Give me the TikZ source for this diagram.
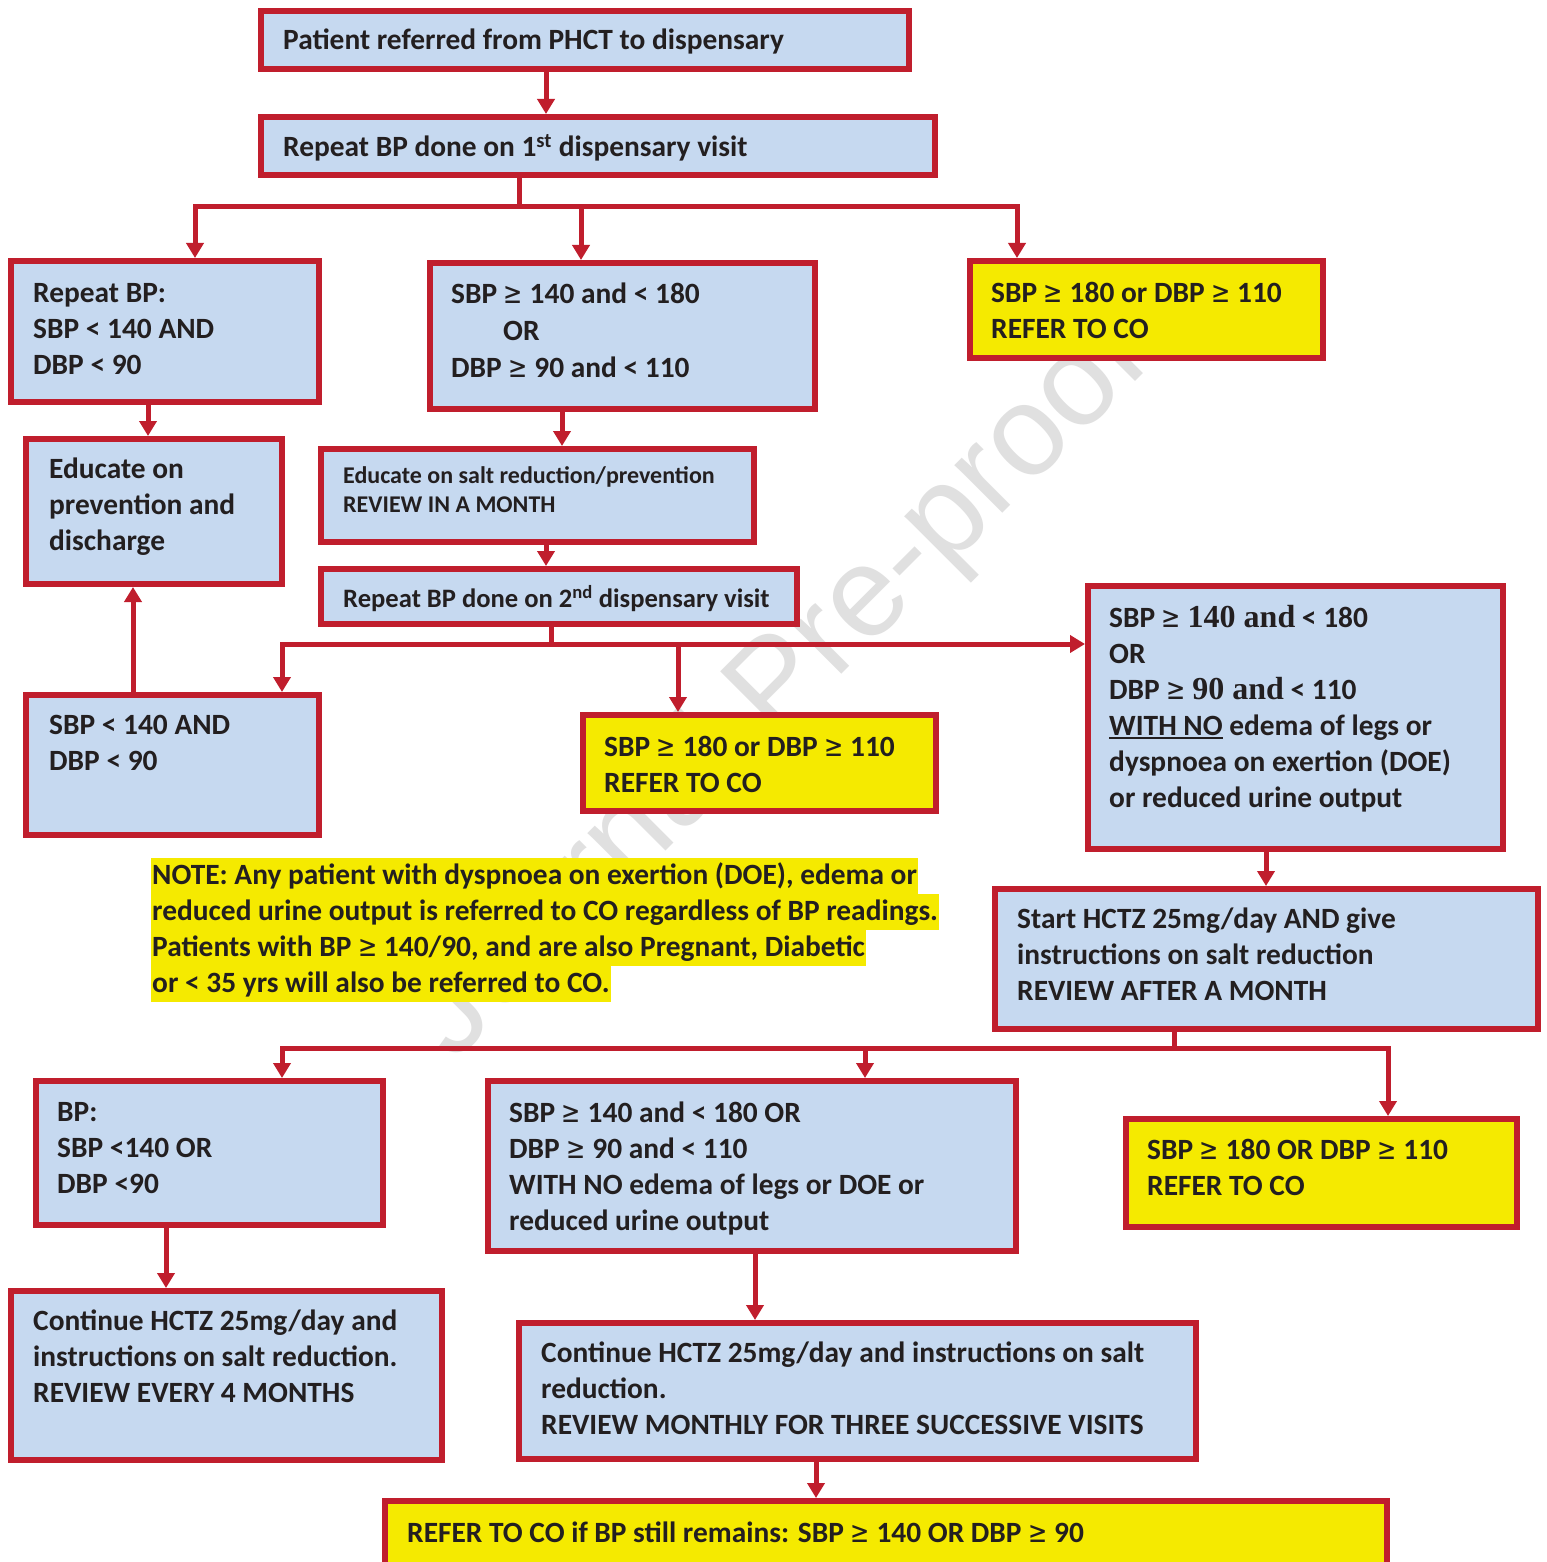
\documentclass[tikz,border=0pt]{standalone}
\usepackage{fontspec}
\usepackage{graphicx}
\setmainfont{Carlito}
\newfontfamily\serifbold{Liberation Serif}
\newfontfamily\wmfont{Liberation Sans}
\newfontfamily\symf{DejaVu Sans}
\usetikzlibrary{arrows.meta}
\definecolor{bred}{RGB}{192,30,45}
\definecolor{bblue}{RGB}{198,217,240}
\definecolor{byellow}{RGB}{245,234,0}
\definecolor{btext}{RGB}{35,31,32}
\newcommand\myul[1]{\setbox0=\hbox{#1}\rlap{\rule[-4pt]{\wd0}{2.4pt}}\box0\relax}
\newcommand\gq{\scalebox{0.78}[1]{\symf\mdseries ≥}}
\begin{document}
\begin{tikzpicture}[x=1pt,y=-1pt,
  box/.style={draw=bred, line width=6pt, fill=bblue, rectangle, inner sep=0pt, anchor=north west},
  ybox/.style={box, fill=byellow},
  txt/.style={anchor=north west, inner sep=0pt, align=left, text=btext, font=\fontsize{29.4}{36}\selectfont\bfseries},
  hl/.style={anchor=north west, fill=byellow, inner xsep=1pt, inner ysep=0pt, text height=26pt, text depth=10pt, text=btext, font=\fontsize{29.4}{36}\selectfont\bfseries},
  conn/.style={draw=bred, line width=5pt},
  arr/.style={conn, -{Triangle[width=17pt,length=15pt]}}
]
\useasboundingbox (0,0) rectangle (1546,1562);
\clip (0,0) rectangle (1546,1562);
\fill[white] (0,0) rectangle (1546,1562);

% watermark
\node[rotate=45, text=black!12, font=\wmfont\fontsize{128}{130}\selectfont] (wm) at (780,690) {Journal Pre-proof};

% boxes
\node[box, minimum width=648, minimum height=58] (b1) at (258,8) {};
\node[box, minimum width=674, minimum height=58] (b2) at (258,114) {};
\node[box, minimum width=308, minimum height=141] (b3) at (8,258) {};
\node[box, minimum width=385, minimum height=146] (b4) at (427,260) {};
\node[ybox, minimum width=353, minimum height=97] (b5) at (967,258) {};
\node[box, minimum width=256, minimum height=145] (b6) at (23,436) {};
\node[box, minimum width=433, minimum height=93] (b7) at (318,446) {};
\node[box, minimum width=476, minimum height=55] (b8) at (318,566) {};
\node[box, minimum width=293, minimum height=140] (b9) at (23,692) {};
\node[ybox, minimum width=353, minimum height=96] (b10) at (580,712) {};
\node[box, minimum width=415, minimum height=263] (b11) at (1085,583) {};
\node[box, minimum width=543, minimum height=140] (b12) at (992,886) {};
\node[box, minimum width=347, minimum height=144] (b13) at (33,1078) {};
\node[box, minimum width=528, minimum height=170] (b14) at (485,1078) {};
\node[ybox, minimum width=391, minimum height=108] (b15) at (1123,1116) {};
\node[box, minimum width=431, minimum height=169] (b16) at (8,1288) {};
\node[box, minimum width=677, minimum height=136] (b17) at (516,1320) {};
\node[ybox, minimum width=1002, minimum height=80] (b18) at (382,1498) {};

% junctions and columns
\coordinate (j1) at (519,207);
\coordinate (j2) at (551,644);
\coordinate (j3) at (1174,1048);
\foreach \xx in {133,148,166,195,282,546,562,581,678,755,816,865,1017,1266,1388}
  \coordinate (x\xx) at (\xx,0);

% connectors
\draw[arr] (b1.south -| x546) -- (b2.north -| x546);
\draw[conn] (b2.south -| j1) -- (j1);
\draw[arr] (j1) -| (b3.north -| x195);
\draw[arr] (j1) -| (b4.north -| x581);
\draw[arr] (j1) -| (b5.north -| x1017);
\draw[arr] (b3.south -| x148) -- (b6.north -| x148);
\draw[arr] (b4.south -| x562) -- (b7.north -| x562);
\draw[arr] (b7.south -| x546) -- (b8.north -| x546);
\draw[conn] (b8.south -| j2) -- (j2);
\draw[arr] (j2) -| (b9.north -| x282);
\draw[arr] (j2) -| (b10.north -| x678);
\draw[arr] (j2) -- (b11.west |- j2);
\draw[arr] (b9.north -| x133) -- (b6.south -| x133);
\draw[arr] (b11.south -| x1266) -- (b12.north -| x1266);
\draw[conn] (b12.south -| j3) -- (j3);
\draw[arr] (j3) -| (b13.north -| x282);
\draw[arr] (j3) -| (b14.north -| x865);
\draw[arr] (j3) -| (b15.north -| x1388);
\draw[arr] (b13.south -| x166) -- (b16.north -| x166);
\draw[arr] (b14.south -| x755) -- (b17.north -| x755);
\draw[arr] (b17.south -| x816) -- (b18.north -| x816);

% texts
\node[txt] (t1) at (283,24) {\strut Patient referred from PHCT to dispensary};
\node[txt] (t2) at (283,131) {\strut Repeat BP done on 1\textsuperscript{st} dispensary visit};
\node[txt] (t3) at (33,277) {\strut Repeat BP:\\SBP < 140 AND\\DBP < 90};
\node[txt, font=\fontsize{29.4}{37}\selectfont\bfseries] (t4) at (451,277) {\strut SBP \gq{} 140 and < 180\\\hspace*{52pt}OR\\DBP \gq{} 90 and < 110};
\node[txt] (t5) at (991,277) {\strut SBP \gq{} 180 or DBP \gq{} 110\\REFER TO CO};
\node[txt] (t6) at (49,453) {\strut Educate on\\prevention and\\discharge};
\node[txt, font=\fontsize{24}{29}\selectfont\bfseries] (t7) at (343,463) {\strut Educate on salt reduction/prevention\\REVIEW IN A MONTH};
\node[txt, font=\fontsize{26.6}{33}\selectfont\bfseries] (t8) at (343,584) {\strut Repeat BP done on 2\textsuperscript{nd} dispensary visit};
\node[txt] (t9) at (49,709) {\strut SBP < 140 AND\\DBP < 90};
\node[txt] (t10) at (604,731) {\strut SBP \gq{} 180 or DBP \gq{} 110\\REFER TO CO};
\node[txt] (t11) at (1109,602) {\strut SBP \gq{} {\serifbold\fontsize{32}{36}\selectfont 140 and} < 180\\OR\\DBP \gq{} {\serifbold\fontsize{32}{36}\selectfont 90 and} < 110\\\myul{WITH NO} edema of legs or\\dyspnoea on exertion (DOE)\\or reduced urine output};
\node[txt] (t12) at (1017,903) {\strut Start HCTZ 25mg/day AND give\\instructions on salt reduction\\REVIEW AFTER A MONTH};
\node[txt] (t13) at (57,1096) {\strut BP:\\SBP <140 OR\\DBP <90};
\node[txt] (t14) at (509,1097) {\strut SBP \gq{} 140 and < 180 OR\\DBP \gq{} 90 and < 110\\WITH NO edema of legs or DOE or\\reduced urine output};
\node[txt] (t15) at (1147,1134) {\strut SBP \gq{} 180 OR DBP \gq{} 110\\REFER TO CO};
\node[txt] (t16) at (33,1305) {\strut Continue HCTZ 25mg/day and\\instructions on salt reduction.\\REVIEW EVERY 4 MONTHS};
\node[txt] (t17) at (541,1337) {\strut Continue HCTZ 25mg/day and instructions on salt\\reduction.\\REVIEW MONTHLY FOR THREE SUCCESSIVE VISITS};
\node[txt] (t18) at (407,1517) {\strut REFER TO CO if BP still remains: SBP \gq{} 140 OR DBP \gq{} 90};

% note
\node[hl] (n1) at (151,858) {NOTE: Any patient with dyspnoea on exertion (DOE), edema or};
\node[hl] (n2) at (151,894) {reduced urine output is referred to CO regardless of BP readings.};
\node[hl] (n3) at (151,930) {Patients with BP \gq{} 140/90, and are also Pregnant, Diabetic};
\node[hl] (n4) at (151,966) {or < 35 yrs will also be referred to CO.};
\end{tikzpicture}
\end{document}
